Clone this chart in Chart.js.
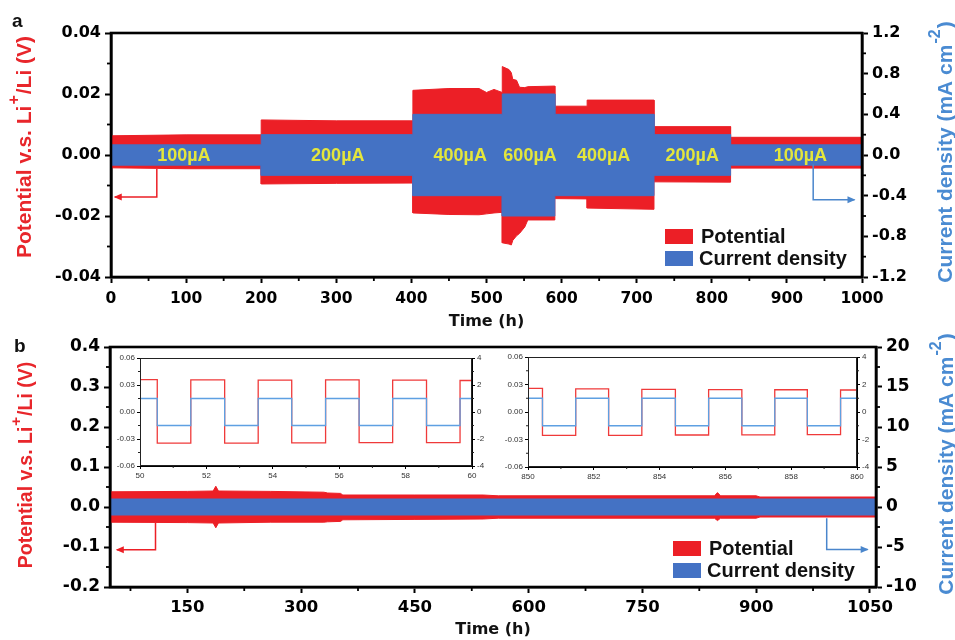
<!DOCTYPE html>
<html><head><meta charset="utf-8">
<script src="https://cdn.jsdelivr.net/npm/chart.js@4.4.1/dist/chart.umd.min.js"></script>
<style>
html,body{margin:0;padding:0;background:#fff;}
#wrap{position:relative;width:955px;height:640px;overflow:hidden;background:#fff;}
canvas{position:absolute;}
</style></head><body>
<div id="wrap">
<canvas id="cA" width="955" height="332" style="left:0;top:0;width:955px;height:332px"></canvas>
<canvas id="cB" width="955" height="308" style="left:0;top:332px;width:955px;height:308px"></canvas>
<canvas id="cI1" width="376" height="140" style="left:112px;top:348px;width:376px;height:140px"></canvas>
<canvas id="cI2" width="372" height="140" style="left:500px;top:348px;width:372px;height:140px"></canvas>
</div>
<script>
// ---------------- Panel a data ----------------
const potTimeA  = [0, 100, 200, 200, 300, 402, 402, 450, 490, 500, 510, 521, 521, 530, 533, 535, 540, 544, 551, 555, 591, 591, 634, 634, 723, 723, 825, 825, 1000];
const potUpperA = [0.0063, 0.0066, 0.0066, 0.0115, 0.0112, 0.0112, 0.0212, 0.0218, 0.0218, 0.0205, 0.0215, 0.0205, 0.0290, 0.0280, 0.0270, 0.0248, 0.0245, 0.0222, 0.0221, 0.0224, 0.0226, 0.0160, 0.0160, 0.0180, 0.0180, 0.0093, 0.0093, 0.0058, 0.0058];
const potLowerA = [-0.0042, -0.0045, -0.0045, -0.0095, -0.0093, -0.0092, -0.0190, -0.0195, -0.0196, -0.0193, -0.0190, -0.0188, -0.0288, -0.0292, -0.0295, -0.0280, -0.0265, -0.0257, -0.0236, -0.0213, -0.0213, -0.0143, -0.0144, -0.0174, -0.0178, -0.0088, -0.0089, -0.0043, -0.0043];
const curTimeA  = [0, 200, 200, 402, 402, 521, 521, 591, 591, 723, 723, 825, 825, 1000];
const curAmpA   = [0.1, 0.1, 0.2, 0.2, 0.4, 0.4, 0.6, 0.6, 0.4, 0.4, 0.2, 0.2, 0.1, 0.1];
const stepLabelTimeA = [97, 302, 465, 558, 656, 774, 918];
const stepLabelTextA = ['100µA', '200µA', '400µA', '600µA', '400µA', '200µA', '100µA'];
const xTicksA  = [0, 100, 200, 300, 400, 500, 600, 700, 800, 900, 1000];
const yTicksA  = [-0.04, -0.02, 0, 0.02, 0.04];
const y2TicksA = [-1.2, -0.8, -0.4, 0, 0.4, 0.8, 1.2];

// ---------------- Panel b data ----------------
const potTimeB  = [48, 150, 184, 187.5, 191, 260, 330, 335, 352, 355, 450, 540, 560, 845, 849, 853, 900, 905, 1058];
const potUpperB = [0.038, 0.039, 0.040, 0.052, 0.040, 0.039, 0.037, 0.035, 0.034, 0.030, 0.030, 0.030, 0.028, 0.028, 0.036, 0.028, 0.028, 0.025, 0.025];
const potLowerB = [-0.038, -0.039, -0.040, -0.052, -0.040, -0.038, -0.038, -0.037, -0.036, -0.032, -0.031, -0.030, -0.028, -0.028, -0.034, -0.028, -0.028, -0.025, -0.025];
const curTimeB  = [48, 1058];
const curAmpB   = [1, 1];
const xTicksB  = [150, 300, 450, 600, 750, 900, 1050];
const yTicksB  = [-0.2, -0.1, 0, 0.1, 0.2, 0.3, 0.4];
const y2TicksB = [-10, -5, 0, 5, 10, 15, 20];

// ---------------- Insets ----------------
const inset1Time = [50, 50.52, 51.53, 52.55, 53.56, 54.57, 55.59, 56.60, 57.61, 58.63, 59.64, 60];
const inset1Pot  = [0.0360, -0.0345, 0.0356, -0.0346, 0.0355, -0.0343, 0.0357, -0.0341, 0.0354, -0.0340, 0.0350, 0.0350];
const inset1Cur  = [1, -1, 1, -1, 1, -1, 1, -1, 1, -1, 1, 1];
const inset2Time = [850, 850.44, 851.45, 852.45, 853.46, 854.48, 855.49, 856.50, 857.50, 858.49, 859.50, 860];
const inset2Pot  = [0.0257, -0.0255, 0.0252, -0.0254, 0.0247, -0.0251, 0.0245, -0.0249, 0.0243, -0.0247, 0.0240, 0.0240];
const inset2Cur  = [1, -1, 1, -1, 1, -1, 1, -1, 1, -1, 1, 1];
const xTicksI1 = [50, 52, 54, 56, 58, 60];
const xTicksI2 = [850, 852, 854, 856, 858, 860];
const yTicksI  = [-0.06, -0.03, 0, 0.03, 0.06];
const y2TicksI = [-4, -2, 0, 2, 4];

// ---------------- styles ----------------
const FONT = "'Liberation Sans', Arial, Helvetica, sans-serif";
const TFONT = "'DejaVu Sans', Verdana, sans-serif";
const RED = '#ec1f26', BLUE = '#4472c4';
const RED_TXT = '#e8262b', BLUE_TXT = '#4a8bd2', YELLOW = '#e4e63c';
const INSET_RED = '#ef3a3a', INSET_BLUE = '#5ea0e2';

function fmtFixed(n){ return v => (Math.abs(v) < 1e-9 ? 0 : v).toFixed(n); }

function makeScale(c) {
  return {
    type: 'linear', position: c.pos, min: c.min, max: c.max,
    afterBuildTicks: s => { s.ticks = c.ticks.map(v => ({ value: v })); },
    afterFit: s => { if (c.width != null) s.width = c.width; if (c.height != null) s.height = c.height; },
    ticks: { callback: c.fmt, font: { family: c.family || TFONT, size: c.fs, weight: c.fw }, color: c.color || '#000',
             padding: c.pad, autoSkip: false, maxRotation: 0, minRotation: 0 },
    grid: { display: true, drawOnChartArea: false, drawTicks: true, tickLength: c.tl, tickWidth: c.tw, tickColor: '#000' },
    border: { display: true, color: '#000', width: c.bw },
    title: { display: false }
  };
}

function band(times, vals, sign, color, axis) {
  return { data: times.map((t, i) => ({ x: t, y: sign * vals[i] })), yAxisID: axis,
           borderColor: color, backgroundColor: color, borderWidth: 1, pointRadius: 0, fill: 'origin', tension: 0 };
}

function drawRich(ctx, parts, x, y, angle, size, color) {
  ctx.save();
  ctx.translate(x, y); ctx.rotate(angle);
  ctx.fillStyle = color; ctx.textBaseline = 'alphabetic'; ctx.textAlign = 'left';
  const main = `bold ${size}px ${FONT}`, sup = `bold ${Math.round(size * 0.78)}px ${FONT}`;
  let total = 0;
  parts.forEach(p => { ctx.font = p.sup ? sup : main; p.w = ctx.measureText(p.t).width + (p.sup ? 2 : 0); total += p.w; });
  let cur = -total / 2; const base = size * 0.36;
  parts.forEach(p => { ctx.font = p.sup ? sup : main; ctx.fillText(p.t, cur + (p.sup ? 1 : 0), p.sup ? base - size * 0.55 : base); cur += p.w; });
  ctx.restore();
}

function minorTicks(ctx, scale, ca, step, major, len, side) {
  const k0 = Math.ceil(scale.min / step - 1e-9), k1 = Math.floor(scale.max / step + 1e-9);
  for (let k = k0; k <= k1; k++) {
    const v = k * step;
    const r = v / major;
    if (Math.abs(r - Math.round(r)) < 1e-6) continue;
    const p = scale.getPixelForValue(v);
    ctx.beginPath();
    if (side === 'bottom') { ctx.moveTo(p, ca.bottom); ctx.lineTo(p, ca.bottom + len); }
    else if (side === 'left') { ctx.moveTo(ca.left - len, p); ctx.lineTo(ca.left, p); }
    else { ctx.moveTo(ca.right, p); ctx.lineTo(ca.right + len, p); }
    ctx.stroke();
  }
}

function arrow(ctx, chart, a, color, axis) {
  const sx = chart.scales.x, sy = chart.scales[axis];
  const x0 = sx.getPixelForValue(a.t0), y0 = sy.getPixelForValue(a.v0);
  const y1 = sy.getPixelForValue(a.v1), x2 = sx.getPixelForValue(a.t1);
  ctx.save();
  ctx.strokeStyle = color; ctx.fillStyle = color; ctx.lineWidth = 1.5;
  ctx.beginPath(); ctx.moveTo(x0, y0); ctx.lineTo(x0, y1); ctx.lineTo(x2, y1); ctx.stroke();
  const d = x2 < x0 ? -1 : 1;
  ctx.beginPath(); ctx.moveTo(x2 + d * 1, y1); ctx.lineTo(x2 - d * 7, y1 - 3.5); ctx.lineTo(x2 - d * 7, y1 + 3.5); ctx.closePath(); ctx.fill();
  ctx.restore();
}

function mainPlugin(P) {
  return { id: 'deco', afterDraw(chart) {
    const ctx = chart.ctx, ca = chart.chartArea, sx = chart.scales.x, sy = chart.scales.y, sy2 = chart.scales.y2;
    ctx.save();
    ctx.strokeStyle = '#000'; ctx.lineWidth = 1.8;
    minorTicks(ctx, sx, ca, P.minor.x, P.major.x, 4, 'bottom');
    minorTicks(ctx, sy, ca, P.minor.y, P.major.y, 4, 'left');
    minorTicks(ctx, sy2, ca, P.minor.y2, P.major.y2, 4, 'right');
    ctx.lineWidth = 2.6; ctx.strokeRect(ca.left, ca.top, ca.right - ca.left, ca.bottom - ca.top);
    if (P.stepLabels) {
      ctx.font = `bold 18px ${FONT}`; ctx.fillStyle = YELLOW; ctx.textAlign = 'center'; ctx.textBaseline = 'middle';
      P.stepLabels.t.forEach((t, i) => ctx.fillText(P.stepLabels.s[i], sx.getPixelForValue(t), sy.getPixelForValue(0) + 1));
    }
    arrow(ctx, chart, P.arrowRed, RED, 'y');
    arrow(ctx, chart, P.arrowBlue, '#4a86cc', 'y2');
    const L = P.legend;
    ctx.fillStyle = RED; ctx.fillRect(L.x, L.y1, 28, 15);
    ctx.fillStyle = BLUE; ctx.fillRect(L.x, L.y2, 28, 15);
    ctx.fillStyle = '#111'; ctx.font = `bold 20px ${FONT}`; ctx.textAlign = 'left'; ctx.textBaseline = 'middle';
    ctx.fillText('Potential', L.x + 36, L.y1 + 8);
    ctx.fillText('Current density', L.x + 34, L.y2 + 8);
    drawRich(ctx, [{ t: 'Potential v.s. Li' }, { t: '+', sup: true }, { t: '/Li (V)' }], P.tl.x, P.tl.y, -Math.PI / 2, P.tlsize, RED_TXT);
    drawRich(ctx, [{ t: 'Current density (mA cm' }, { t: '-2', sup: true }, { t: ')' }], P.tr.x, P.tr.y, -Math.PI / 2, P.trsize, BLUE_TXT);
    ctx.fillStyle = '#111'; ctx.font = `bold 16px ${TFONT}`; ctx.textAlign = 'center'; ctx.textBaseline = 'middle';
    ctx.fillText('Time (h)', (ca.left + ca.right) / 2, ca.bottom + P.xtitleDy);
    ctx.font = `bold 19px ${FONT}`; ctx.textAlign = 'left'; ctx.textBaseline = 'alphabetic';
    ctx.fillText(P.letter, P.letterPos.x, P.letterPos.y);
    ctx.restore();
  }};
}

function mainChart(id, P) {
  const datasets = [
    band(P.curT, P.cur, 1, BLUE, 'y2'),
    band(P.curT, P.cur, -1, BLUE, 'y2'),
    band(P.potT, P.potUp, 1, RED, 'y'),
    band(P.potT, P.potLo, 1, RED, 'y')
  ];
  return new Chart(document.getElementById(id), {
    type: 'line',
    data: { datasets },
    options: {
      responsive: false, animation: false, devicePixelRatio: 1, events: [],
      layout: { padding: { top: P.padTop, left: 0, right: 0, bottom: 0 } },
      plugins: { legend: { display: false }, tooltip: { enabled: false } },
      scales: {
        x:  makeScale({ pos: 'bottom', min: P.xmin, max: P.xmax, ticks: P.xt, fmt: v => String(v), fs: P.fsx, fw: 'bold', pad: P.xpad, tl: 6, tw: 2, bw: 2.6, height: P.xh }),
        y:  makeScale({ pos: 'left', min: P.ymin, max: P.ymax, ticks: P.yt, fmt: P.yfmt, fs: P.fsy, fw: 'bold', pad: 4, tl: 6, tw: 2, bw: 2.6, width: P.yw }),
        y2: makeScale({ pos: 'right', min: P.y2min, max: P.y2max, ticks: P.y2t, fmt: P.y2fmt, fs: P.fsy, fw: 'bold', pad: 4, tl: 6, tw: 2, bw: 2.6, width: P.y2w })
      }
    },
    plugins: [mainPlugin(P)]
  });
}

mainChart('cA', {
  potT: potTimeA, potUp: potUpperA, potLo: potLowerA, curT: curTimeA, cur: curAmpA,
  xmin: 0, xmax: 1000, ymin: -0.04, ymax: 0.04, y2min: -1.2, y2max: 1.2,
  xt: xTicksA, yt: yTicksA, y2t: y2TicksA, yfmt: fmtFixed(2), y2fmt: fmtFixed(1),
  padTop: 33, yw: 111, y2w: 93, xh: 55, fsx: 15.5, fsy: 16, xpad: 7,
  minor: { x: 50, y: 0.01, y2: 0.2 }, major: { x: 100, y: 0.02, y2: 0.4 },
  stepLabels: { t: stepLabelTimeA, s: stepLabelTextA },
  arrowRed: { t0: 61, v0: -0.0046, v1: -0.0138, t1: 5 },
  arrowBlue: { t0: 935, v0: -0.09, v1: -0.44, t1: 990 },
  legend: { x: 665, y1: 229, y2: 251 },
  tl: { x: 23, y: 147 }, tr: { x: 944, y: 152 }, tlsize: 21, trsize: 21, xtitleDy: 45,
  letter: 'a', letterPos: { x: 12, y: 27 }
});

mainChart('cB', {
  potT: potTimeB, potUp: potUpperB, potLo: potLowerB, curT: curTimeB, cur: curAmpB,
  xmin: 48, xmax: 1058, ymin: -0.2, ymax: 0.4, y2min: -10, y2max: 20,
  xt: xTicksB, yt: yTicksB, y2t: y2TicksB, yfmt: fmtFixed(1), y2fmt: v => String(v),
  padTop: 15, yw: 110, y2w: 79, xh: 53, fsx: 16.5, fsy: 17, xpad: 5,
  minor: { x: 75, y: 0.05, y2: 2.5 }, major: { x: 150, y: 0.1, y2: 5 },
  stepLabels: null,
  arrowRed: { t0: 108, v0: -0.04, v1: -0.107, t1: 57 },
  arrowBlue: { t0: 993, v0: -1.4, v1: -5.3, t1: 1047 },
  legend: { x: 673, y1: 209, y2: 231 },
  tl: { x: 25, y: 133 }, tr: { x: 945, y: 132 }, tlsize: 19.5, trsize: 21, xtitleDy: 43,
  letter: 'b', letterPos: { x: 14, y: 20 }
});

function insetPlugin(P) {
  return { id: 'insetDeco', afterDraw(chart) {
    const ctx = chart.ctx, ca = chart.chartArea;
    ctx.save(); ctx.strokeStyle = '#222'; ctx.lineWidth = 1;
    minorTicks(ctx, chart.scales.x, ca, 1, 2, 2, 'bottom');
    minorTicks(ctx, chart.scales.y, ca, 0.015, 0.03, 2, 'left');
    minorTicks(ctx, chart.scales.y2, ca, 1, 2, 2, 'right');
    ctx.strokeRect(ca.left + 0.5, ca.top + 0.5, ca.right - ca.left - 1, ca.bottom - ca.top - 1);
    ctx.restore();
  }};
}

function insetChart(id, T, pot, cur, xt, P) {
  const sc = (o) => makeScale(Object.assign({ family: FONT, fs: 8, fw: 'normal', color: '#333', pad: 2, tl: 3, tw: 1, bw: 1 }, o));
  return new Chart(document.getElementById(id), {
    type: 'line',
    data: { datasets: [
      { data: T.map((t, i) => ({ x: t, y: cur[i] })), yAxisID: 'y2', stepped: 'before', borderColor: INSET_BLUE, borderWidth: 1.3, pointRadius: 0, fill: false },
      { data: T.map((t, i) => ({ x: t, y: pot[i] })), yAxisID: 'y', stepped: 'before', borderColor: INSET_RED, borderWidth: 1.3, pointRadius: 0, fill: false }
    ]},
    options: {
      responsive: false, animation: false, devicePixelRatio: 1, events: [],
      layout: { padding: { top: P.top, left: 0, right: 0, bottom: 0 } },
      plugins: { legend: { display: false }, tooltip: { enabled: false } },
      scales: {
        x:  sc({ pos: 'bottom', min: xt[0], max: xt[xt.length - 1], ticks: xt, fmt: v => String(v), height: P.xh }),
        y:  sc({ pos: 'left', min: -0.06, max: 0.06, ticks: yTicksI, fmt: fmtFixed(2), width: P.yw }),
        y2: sc({ pos: 'right', min: -4, max: 4, ticks: y2TicksI, fmt: v => String(v), width: P.y2w })
      }
    },
    plugins: [insetPlugin(P)]
  });
}

insetChart('cI1', inset1Time, inset1Pot, inset1Cur, xTicksI1, { top: 10, xh: 22, yw: 28, y2w: 16 });
insetChart('cI2', inset2Time, inset2Pot, inset2Cur, xTicksI2, { top: 9, xh: 21, yw: 28, y2w: 15 });
</script>
</body></html>
